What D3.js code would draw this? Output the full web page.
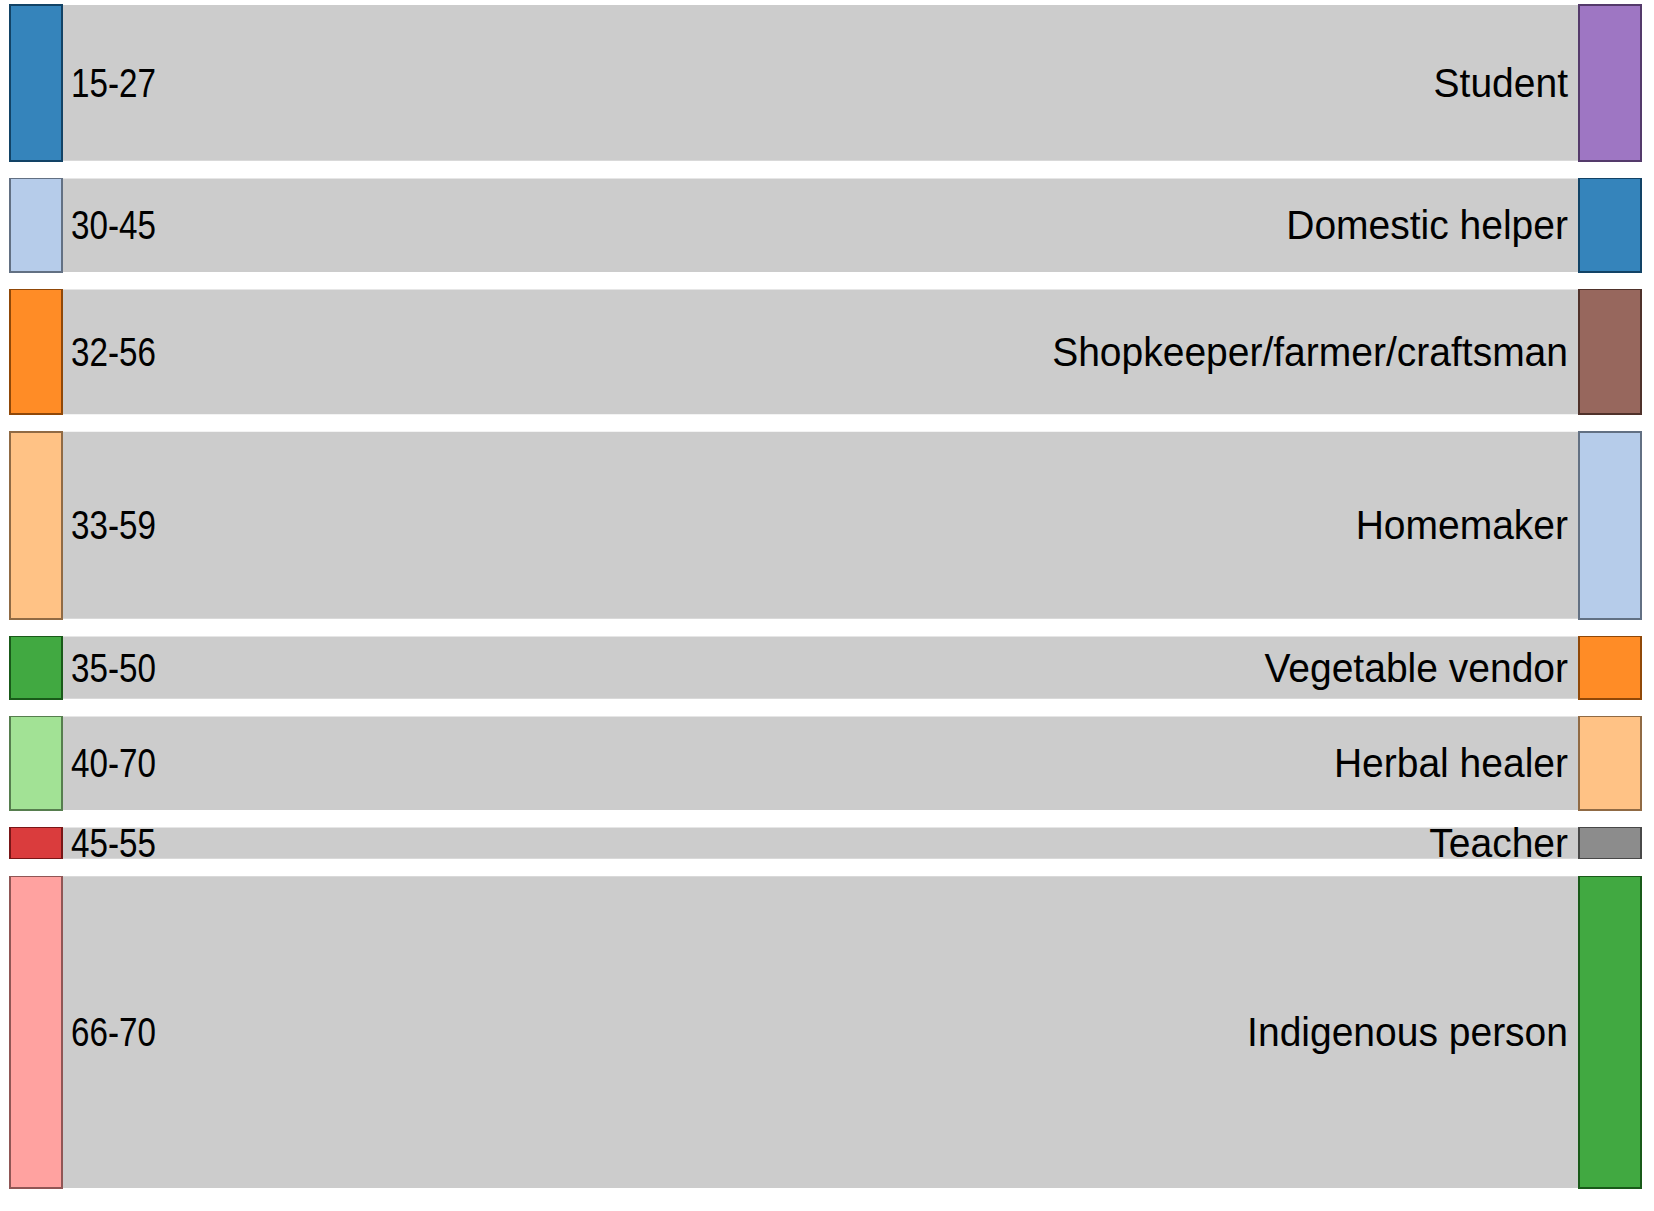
<!DOCTYPE html>
<html>
<head>
<meta charset="utf-8">
<script src="https://cdn.jsdelivr.net/npm/d3@7"></script>
<style>
  body { margin: 0; background: #fff; }
  .link { fill: none; stroke: #000; stroke-opacity: .2; }
  .node rect { fill-opacity: .9; shape-rendering: crispEdges; }
  .node text { font-family: "Liberation Sans", Arial, sans-serif; font-size: 40px; fill: #000; }
</style>
</head>
<body>
<svg></svg>
<script>
// age groups (left) -> occupations (right), number of participants per flow
const ageGroups = ["15-27", "30-45", "32-56", "33-59", "35-50", "40-70", "45-55", "66-70"];
const occupations = ["Student", "Domestic helper", "Shopkeeper/farmer/craftsman", "Homemaker",
  "Vegetable vendor", "Herbal healer", "Teacher", "Indigenous person"];
const counts = [5, 3, 4, 6, 2, 3, 1, 10];

const ageColors = ["#1f77b4", "#aec7e8", "#ff7f0e", "#ffbb78", "#2ca02c", "#98df8a", "#d62728", "#ff9896"];
const occColors = ["#9467bd", "#1f77b4", "#8c564b", "#aec7e8", "#ff7f0e", "#ffbb78", "#7f7f7f", "#2ca02c"];

const width = 1654, height = 1211;
const svg = d3.select("svg").attr("width", width).attr("height", height);

const chartTop = 5, chartBottom = 1188, gap = 17.6;
const leftX0 = 10, leftX1 = 62, rightX0 = 1579, rightX1 = 1641;

// value scale: participants -> pixel height
const total = d3.sum(counts);
const y = d3.scaleLinear()
  .domain([0, total])
  .range([0, (chartBottom - chartTop) - gap * (counts.length - 1)]);

// stack the nodes top to bottom
let acc = chartTop;
const flows = counts.map((c, i) => {
  const y0 = acc, h = y(c);
  acc += h + gap;
  return { age: ageGroups[i], occ: occupations[i], value: c, y0: y0, h: h, i: i };
});

// links
const link = d3.linkHorizontal()
  .source(d => [leftX1, d.y0 + d.h / 2])
  .target(d => [rightX0, d.y0 + d.h / 2]);

svg.append("g").selectAll(".link")
  .data(flows)
  .enter().append("path")
  .attr("class", "link")
  .attr("d", link)
  .attr("stroke-width", d => d.h);

// left nodes
const left = svg.append("g").selectAll(".node.left")
  .data(flows)
  .enter().append("g")
  .attr("class", "node left");

left.append("rect")
  .attr("x", leftX0)
  .attr("y", d => d.y0)
  .attr("width", leftX1 - leftX0)
  .attr("height", d => d.h)
  .style("fill", d => ageColors[d.i])
  .style("stroke", d => d3.rgb(ageColors[d.i]).darker(1.6))
  .style("stroke-width", 1.5);

left.append("text")
  .attr("transform", d => `translate(${leftX1 + 9},${d.y0 + d.h / 2}) scale(0.83,1)`)
  .attr("dy", ".35em")
  .attr("text-anchor", "start")
  .text(d => d.age);

// right nodes
const right = svg.append("g").selectAll(".node.right")
  .data(flows)
  .enter().append("g")
  .attr("class", "node right");

right.append("rect")
  .attr("x", rightX0)
  .attr("y", d => d.y0)
  .attr("width", rightX1 - rightX0)
  .attr("height", d => d.h)
  .style("fill", d => occColors[d.i])
  .style("stroke", d => d3.rgb(occColors[d.i]).darker(1.6))
  .style("stroke-width", 1.5);

right.append("text")
  .attr("transform", d => `translate(${rightX0 - 11},${d.y0 + d.h / 2}) scale(0.975,1)`)
  .attr("dy", ".35em")
  .attr("text-anchor", "end")
  .text(d => d.occ);
</script>
</body>
</html>
